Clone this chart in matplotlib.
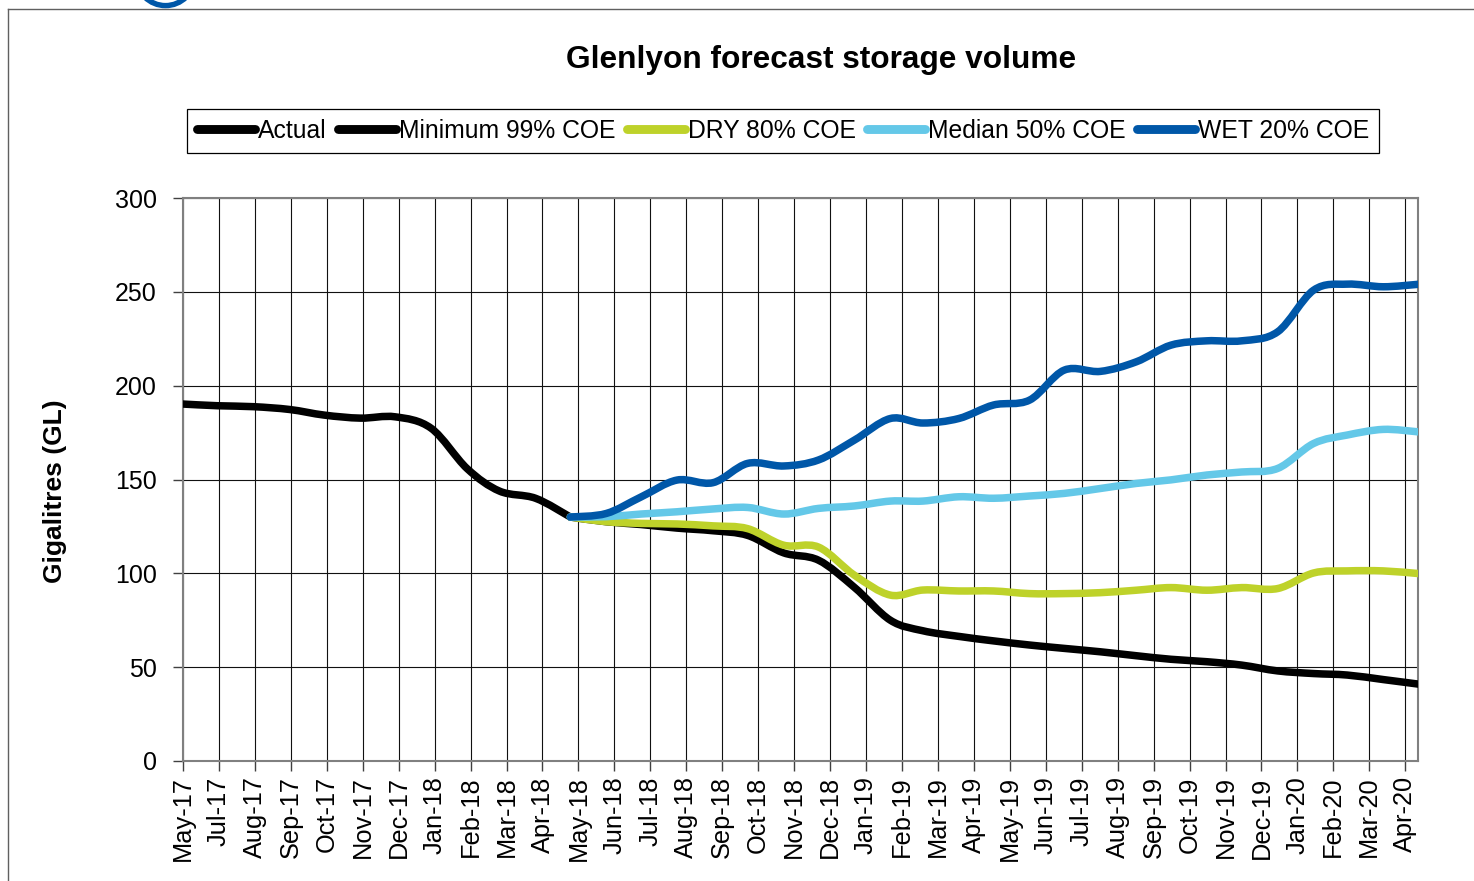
import matplotlib
matplotlib.use("Agg")
import matplotlib.pyplot as plt
import matplotlib.dates as mdates
from matplotlib.path import Path
from matplotlib.patches import PathPatch, Arc
from matplotlib.lines import Line2D
import numpy as np
import pandas as pd

plt.rcParams['font.family'] = ['Liberation Sans', 'DejaVu Sans']

# ---------------- data ----------------
actual_dates = pd.date_range('2017-05-31', '2018-04-30', freq='ME')
actual = [190.2, 189.3, 188.8, 187.3, 184.3, 182.7, 183.4, 177.3, 155.8, 143.8, 140.0, 130.0]

forecast_dates = pd.date_range('2018-04-30', '2020-04-30', freq='ME')
minimum_99 = [130.0, 127.5, 126.0, 124.1, 122.7, 120.2, 110.9, 107.0, 92.5, 75.0, 69.4, 66.4,
              64.0, 61.8, 60.0, 58.2, 56.1, 54.2, 52.9, 51.1, 48.0, 46.6, 45.8, 43.4, 41.0]
dry_80 = [130.0, 127.5, 126.6, 126.3, 125.3, 123.8, 115.0, 114.0, 99.0, 88.4, 91.1, 90.6,
          90.6, 89.2, 89.2, 89.7, 91.0, 92.4, 91.0, 92.4, 91.9, 100.2, 101.3, 101.3, 99.9]
median_50 = [130.0, 130.2, 131.6, 132.8, 134.3, 135.1, 131.6, 134.6, 135.9, 138.5, 138.5, 140.8,
             140.0, 141.2, 142.6, 145.2, 147.9, 149.8, 152.4, 154.0, 155.9, 169.2, 173.7, 176.7, 175.4]
wet_20 = [130.0, 131.9, 140.7, 149.7, 148.3, 158.6, 157.2, 160.4, 171.0, 182.5, 180.1, 182.5,
          189.7, 192.3, 208.3, 207.6, 212.7, 221.6, 223.9, 223.9, 228.7, 250.9, 254.1, 252.7, 254.0]

series_names = ['Actual', 'Minimum 99% COE', 'DRY 80% COE', 'Median 50% COE', 'WET 20% COE']
series_colors = ['#000000', '#000000', '#BED22A', '#64C8E8', '#0057A8']

tick_labels = ['May-17', 'Jul-17', 'Aug-17', 'Sep-17', 'Oct-17', 'Nov-17', 'Dec-17',
               'Jan-18', 'Feb-18', 'Mar-18', 'Apr-18', 'May-18', 'Jun-18', 'Jul-18',
               'Aug-18', 'Sep-18', 'Oct-18', 'Nov-18', 'Dec-18', 'Jan-19', 'Feb-19',
               'Mar-19', 'Apr-19', 'May-19', 'Jun-19', 'Jul-19', 'Aug-19', 'Sep-19',
               'Oct-19', 'Nov-19', 'Dec-19', 'Jan-20', 'Feb-20', 'Mar-20', 'Apr-20']
y_ticks = [0, 50, 100, 150, 200, 250, 300]

# ---------------- figure ----------------
W, H = 1474, 881
fig = plt.figure(figsize=(W / 100, H / 100), dpi=100)
ax = fig.add_axes([183 / W, 1 - 761 / H, (1418 - 183) / W, (761 - 198) / H])


def smooth_patch(dates, vals, color, lw, z):
    x = mdates.date2num(pd.to_datetime(dates).to_pydatetime())
    y = np.asarray(vals, dtype=float)
    pts = np.column_stack([x, y])
    n = len(pts)
    verts = [tuple(pts[0])]
    codes = [Path.MOVETO]
    for i in range(n - 1):
        p0 = pts[i - 1] if i > 0 else pts[i]
        p1 = pts[i]
        p2 = pts[i + 1]
        p3 = pts[i + 2] if i + 2 < n else pts[i + 1]
        c1 = p1 + (p2 - p0) / 6.0
        c2 = p2 - (p3 - p1) / 6.0
        verts += [tuple(c1), tuple(c2), tuple(p2)]
        codes += [Path.CURVE4] * 3
    patch = PathPatch(Path(verts, codes), facecolor='none', edgecolor=color,
                      lw=lw, capstyle='round', joinstyle='round', zorder=z)
    ax.add_patch(patch)


LW = 5.4
all_data = [(actual_dates, actual), (forecast_dates, minimum_99), (forecast_dates, dry_80),
            (forecast_dates, median_50), (forecast_dates, wet_20)]
for k, ((d, v), c) in enumerate(zip(all_data, series_colors)):
    smooth_patch(d, v, c, LW, 3 + k)

start = mdates.date2num(pd.Timestamp('2017-05-31').to_pydatetime())
end = mdates.date2num(pd.Timestamp('2020-04-30').to_pydatetime())
ax.set_xlim(start, end)
ax.set_ylim(0, 300)
tick_pos = [start + 31 * i for i in range(len(tick_labels))]
ax.set_xticks(tick_pos)
ax.set_xticklabels(tick_labels, rotation=90, fontsize=18.3)
ax.set_yticks(y_ticks)
ax.set_yticklabels([str(t) for t in y_ticks], fontsize=18)

ax.grid(True, color='#111111', lw=0.8)
ax.set_axisbelow(True)
for s in ax.spines.values():
    s.set_color('#808080')
    s.set_linewidth(1.5)
ax.tick_params(axis='y', direction='out', length=7, width=1, color='#404040', pad=12)
ax.tick_params(axis='x', direction='out', length=7, width=1, color='#404040', pad=4)

ax.set_ylabel('Gigalitres (GL)', fontsize=19, fontweight='bold')
ax.yaxis.set_label_coords(-0.094, 0.479)

fig.text(821.5 / W, 1 - 60 / H, 'Glenlyon forecast storage volume', ha='center', va='center',
         fontsize=22.8, fontweight='bold')

handles = [Line2D([], [], color=c, lw=LW + 1, solid_capstyle='round') for c in series_colors]
leg = fig.legend(handles, series_names, loc='center', bbox_to_anchor=(783 / W, 1 - 131 / H),
                 ncol=5, frameon=True, fancybox=False, edgecolor='black', framealpha=1,
                 fontsize=17.8, handlelength=2.35, handletextpad=0.12, columnspacing=0.45,
                 borderpad=0.4)
leg.get_frame().set_linewidth(0.9)

# outer chart frame
fig.add_artist(Line2D([8 / W, 8 / W], [0, 1 - 9 / H], transform=fig.transFigure,
                      color='#606060', lw=1.0))
fig.add_artist(Line2D([8 / W, 1], [1 - 9 / H, 1 - 9 / H], transform=fig.transFigure,
                      color='#606060', lw=1.0))
# partial logo ring at the top edge
fig.add_artist(Arc((1.655, (H + 23.7) / 100), 0.586, 0.586, theta1=180, theta2=360,
                   transform=fig.dpi_scale_trans, color='#0057A8', lw=3.9))

fig.savefig('out.png', dpi=100)
